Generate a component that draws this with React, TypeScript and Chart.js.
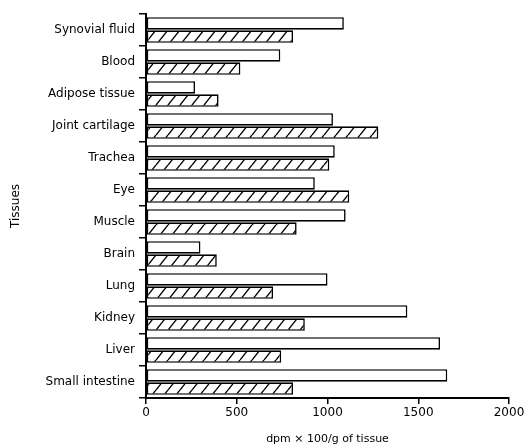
import React, { useEffect, useRef } from "react";
import { Chart, registerables } from "chart.js";

Chart.register(...registerables);

const categories = [
  "Synovial fluid",
  "Blood",
  "Adipose tissue",
  "Joint cartilage",
  "Trachea",
  "Eye",
  "Muscle",
  "Brain",
  "Lung",
  "Kidney",
  "Liver",
  "Small intestine",
];
const openValues = [1090, 740, 270, 1030, 1040, 930, 1100, 300, 1000, 1440, 1620, 1660];
const hatchedValues = [810, 520, 400, 1280, 1010, 1120, 830, 390, 700, 875, 745, 810];
const xTicks = [0, 500, 1000, 1500, 2000];

function makeHatch(): CanvasPattern | string {
  const W = 12;
  const H = 15;
  const c = document.createElement("canvas");
  c.width = W;
  c.height = H;
  const g = c.getContext("2d");
  if (!g) return "#fff";
  g.fillStyle = "#fff";
  g.fillRect(0, 0, W, H);
  g.strokeStyle = "#000";
  g.lineWidth = 1.4;
  for (const dx of [-W, 0, W]) {
    g.beginPath();
    g.moveTo(dx, H);
    g.lineTo(dx + W, 0);
    g.stroke();
  }
  const p = g.createPattern(c, "repeat");
  return p || "#fff";
}

export default function App() {
  const ref = useRef<HTMLCanvasElement>(null);
  useEffect(() => {
    if (!ref.current) return;
    const font = { family: "DejaVu Sans", size: 12 };
    const chart = new Chart(ref.current, {
      type: "bar",
      data: {
        labels: categories,
        datasets: [
          {
            data: openValues,
            backgroundColor: "#fff",
            borderColor: "#000",
            borderWidth: 1.6,
            borderSkipped: false,
          },
          {
            data: hatchedValues,
            backgroundColor: makeHatch() as any,
            borderColor: "#000",
            borderWidth: 1.6,
            borderSkipped: false,
          },
        ],
      },
      options: {
        indexAxis: "y",
        animation: false,
        responsive: false,
        maintainAspectRatio: false,
        layout: { padding: { top: 14, right: 20, left: 9, bottom: 0 } },
        plugins: { legend: { display: false }, tooltip: { enabled: false } },
        datasets: { bar: { categoryPercentage: 0.82, barPercentage: 0.95 } },
        scales: {
          x: {
            min: 0,
            max: 2000,
            afterBuildTicks: (s: any) => {
              s.ticks = xTicks.map((v) => ({ value: v }));
            },
            afterFit: (s: any) => {
              s.height = 48;
            },
            grid: {
              drawOnChartArea: false,
              drawTicks: true,
              tickLength: 6,
              color: "#000",
              lineWidth: 1.5,
            },
            border: { display: true, color: "#000", width: 2 },
            ticks: {
              color: "#000",
              font,
              padding: 2,
              maxRotation: 0,
              callback: (v: any) => String(v),
            },
            title: {
              display: true,
              text: "dpm × 100/g of tissue",
              color: "#000",
              font: { family: "DejaVu Sans", size: 11 },
              padding: { top: 6, bottom: 0 },
            },
          },
          y: {
            afterFit: (s: any) => {
              s.width = 137;
            },
            grid: {
              drawOnChartArea: false,
              drawTicks: true,
              tickLength: 7,
              color: "#000",
              lineWidth: 1.5,
            },
            border: { display: true, color: "#000", width: 2 },
            ticks: { color: "#000", font, padding: 4 },
            title: {
              display: true,
              text: "Tissues",
              color: "#000",
              font,
              padding: { top: 0, bottom: 0 },
            },
          },
        },
      },
    });
    return () => chart.destroy();
  }, []);
  return (
    <div style={{ position: "fixed", left: 0, top: 0, width: 529, height: 446, background: "#fff" }}>
      <canvas ref={ref} width={529} height={446} style={{ width: 529, height: 446 }} />
    </div>
  );
}
